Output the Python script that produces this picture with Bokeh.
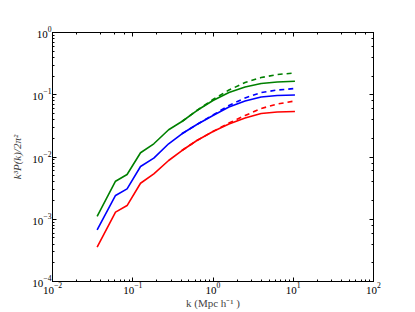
from bokeh.plotting import figure
from bokeh.models import LogAxis, LogTicker, Range1d
from bokeh.embed import file_html
from bokeh.resources import INLINE

# k values (Mpc h^-1)
k = [0.036, 0.061, 0.085, 0.125, 0.183, 0.28, 0.41, 0.63, 1.0, 1.58, 2.51, 3.98, 6.31, 10.5]
k_dash = [0.41, 0.63, 1.0, 1.58, 2.51, 3.98, 6.31, 10.5]

green = [1.11e-3, 4.08e-3, 5.24e-3, 0.0117, 0.0163, 0.0274, 0.0372, 0.0558, 0.0809, 0.1087, 0.133, 0.152, 0.160, 0.165]
blue = [6.76e-4, 2.41e-3, 3.08e-3, 7.03e-3, 9.57e-3, 0.0163, 0.0236, 0.0333, 0.0464, 0.0635, 0.0794, 0.092, 0.0973, 0.099]
red = [3.56e-4, 1.30e-3, 1.66e-3, 3.79e-3, 5.37e-3, 8.79e-3, 0.0127, 0.0184, 0.0257, 0.0339, 0.0423, 0.050, 0.0528, 0.0538]

green_dash = [0.0372, 0.0558, 0.0839, 0.119, 0.157, 0.189, 0.211, 0.224]
blue_dash = [0.0236, 0.0333, 0.0473, 0.0672, 0.0887, 0.1087, 0.119, 0.126]
red_dash = [0.0127, 0.0184, 0.0257, 0.0352, 0.0464, 0.0601, 0.071, 0.0794]

x_label = "k (Mpc h\u207b\u00b9 )"
y_label = "k\u00b3P(k)/2\u03c0\u00b2"

FONT = "Liberation Serif"

p = figure(frame_width=321, frame_height=249, x_axis_type="log", y_axis_type="log",
           x_range=Range1d(1e-2, 1e2), y_range=Range1d(1e-4, 1e0),
           output_backend="svg", toolbar_location=None,
           min_border_left=52, min_border_right=26, min_border_top=32, min_border_bottom=24)
p.grid.visible = False
p.outline_line_color = "black"
p.outline_line_width = 1

for ax in (p.xaxis[0], p.yaxis[0]):
    ax.major_tick_in = 4
    ax.major_tick_out = 0
    ax.minor_tick_in = 2
    ax.minor_tick_out = 0
    ax.major_label_text_font = FONT
    ax.major_label_text_font_size = "11px"
    ax.major_label_text_color = "black"
    ax.axis_label_text_font = FONT
    ax.axis_label_text_font_size = "11px"
    ax.axis_label_text_font_style = "normal"
    ax.axis_line_color = "black"
    ax.major_tick_line_color = "black"
    ax.minor_tick_line_color = "black"
    ax.major_label_standoff = 1
    ax.axis_label_standoff = 0

p.xaxis.axis_label = x_label
p.yaxis.axis_label = y_label
p.yaxis.axis_label_text_font_style = "italic"
p.yaxis.axis_label_standoff = 6

for loc in ("right", "above"):
    ax = LogAxis(ticker=LogTicker())
    ax.major_tick_in = 4
    ax.major_tick_out = 0
    ax.minor_tick_in = 2
    ax.minor_tick_out = 0
    ax.major_label_text_font_size = "1px"
    ax.major_label_text_color = None
    ax.major_label_standoff = 0
    ax.axis_line_color = "black"
    p.add_layout(ax, loc)

p.line(k, green, line_color="#008000", line_width=1.6)
p.line(k, blue, line_color="#0000ff", line_width=1.6)
p.line(k, red, line_color="#ff0000", line_width=1.6)
p.line(k_dash, green_dash, line_color="#008000", line_width=1.6, line_dash="5 4")
p.line(k_dash, blue_dash, line_color="#0000ff", line_width=1.6, line_dash="5 4")
p.line(k_dash, red_dash, line_color="#ff0000", line_width=1.6, line_dash="5 4")

open("out.html", "w").write(file_html(p, INLINE))
